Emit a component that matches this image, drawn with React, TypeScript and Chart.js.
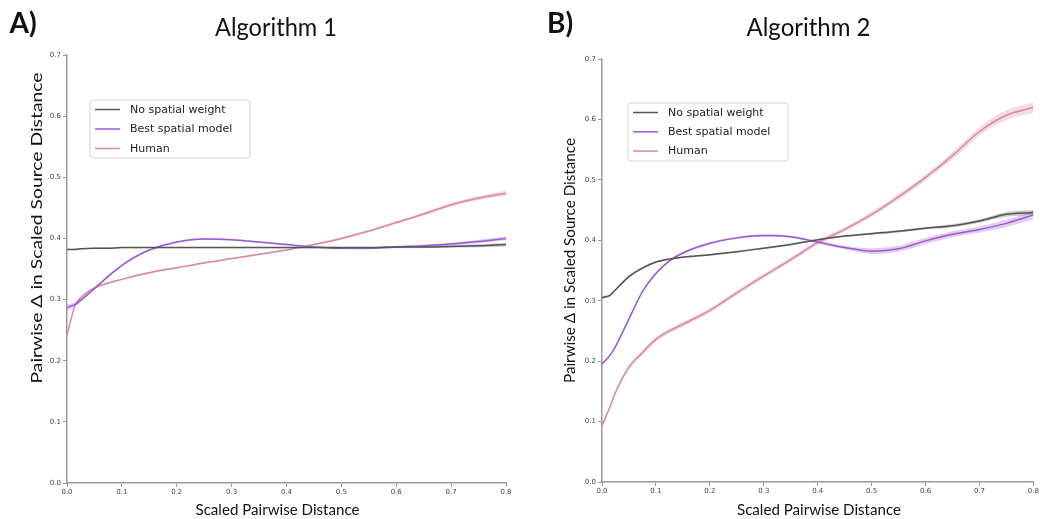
import React, { useEffect, useRef } from "react";
import { Chart, registerables } from "chart.js";

Chart.register(...registerables);

// ---------- data ----------
const SERIES_NAMES = ["No spatial weight", "Best spatial model", "Human"];
const X_TICKS = [0, 0.1, 0.2, 0.3, 0.4, 0.5, 0.6, 0.7, 0.8];
const Y_TICKS = [0, 0.1, 0.2, 0.3, 0.4, 0.5, 0.6, 0.7];

const X_POINTS = [0, 0.015, 0.025, 0.05, 0.075, 0.1, 0.125, 0.15, 0.2, 0.25, 0.3, 0.35, 0.4, 0.45, 0.5, 0.55, 0.6, 0.65, 0.7, 0.75, 0.8];

// Algorithm 1
const A1_NO_SPATIAL = [0.382, 0.382, 0.383, 0.384, 0.384, 0.385, 0.385, 0.385, 0.385, 0.385, 0.385, 0.385, 0.385, 0.385, 0.385, 0.385, 0.386, 0.386, 0.387, 0.388, 0.39];
const A1_BEST_SPATIAL = [0.287, 0.292, 0.299, 0.318, 0.338, 0.356, 0.37, 0.381, 0.394, 0.399, 0.398, 0.394, 0.39, 0.386, 0.384, 0.384, 0.386, 0.388, 0.391, 0.395, 0.4];
const A1_HUMAN = [0.242, 0.291, 0.303, 0.319, 0.327, 0.333, 0.339, 0.344, 0.352, 0.36, 0.367, 0.374, 0.381, 0.39, 0.4, 0.412, 0.426, 0.44, 0.455, 0.466, 0.474];
const A1_NO_SPATIAL_CI = [0.001, 0.001, 0.001, 0.001, 0.001, 0.001, 0.001, 0.001, 0.001, 0.001, 0.001, 0.001, 0.001, 0.001, 0.001, 0.001, 0.0015, 0.002, 0.002, 0.0025, 0.003];
const A1_BEST_SPATIAL_CI = [0.005, 0.004, 0.003, 0.002, 0.002, 0.0015, 0.0015, 0.0015, 0.0015, 0.0015, 0.0015, 0.0015, 0.0015, 0.0015, 0.0015, 0.0015, 0.002, 0.002, 0.0025, 0.003, 0.003];
const A1_HUMAN_CI = [0.002, 0.002, 0.002, 0.0015, 0.0015, 0.0015, 0.0015, 0.0015, 0.0015, 0.0015, 0.0015, 0.0015, 0.0015, 0.0015, 0.002, 0.002, 0.002, 0.0025, 0.003, 0.0035, 0.004];

// Algorithm 2
const A2_NO_SPATIAL = [0.305, 0.309, 0.318, 0.34, 0.354, 0.364, 0.369, 0.372, 0.376, 0.381, 0.387, 0.393, 0.401, 0.407, 0.411, 0.415, 0.42, 0.424, 0.432, 0.443, 0.446];
const A2_BEST_SPATIAL = [0.195, 0.21, 0.224, 0.27, 0.315, 0.345, 0.366, 0.379, 0.395, 0.404, 0.408, 0.406, 0.397, 0.388, 0.382, 0.386, 0.399, 0.41, 0.418, 0.428, 0.442];
const A2_HUMAN = [0.093, 0.125, 0.148, 0.19, 0.214, 0.236, 0.25, 0.261, 0.284, 0.313, 0.341, 0.368, 0.396, 0.418, 0.443, 0.472, 0.504, 0.54, 0.58, 0.607, 0.62];
const A2_NO_SPATIAL_CI = [0.002, 0.002, 0.002, 0.002, 0.002, 0.0015, 0.0015, 0.0015, 0.0015, 0.0015, 0.0015, 0.0015, 0.0015, 0.0015, 0.002, 0.002, 0.002, 0.0025, 0.003, 0.004, 0.004];
const A2_BEST_SPATIAL_CI = [0.002, 0.002, 0.002, 0.002, 0.002, 0.002, 0.002, 0.002, 0.002, 0.002, 0.002, 0.002, 0.0025, 0.003, 0.005, 0.005, 0.005, 0.005, 0.005, 0.006, 0.007];
const A2_HUMAN_CI = [0.003, 0.003, 0.003, 0.004, 0.004, 0.004, 0.004, 0.004, 0.004, 0.004, 0.004, 0.004, 0.004, 0.004, 0.004, 0.005, 0.005, 0.006, 0.007, 0.008, 0.009];

// ---------- styles ----------
const COLORS = ["#555555", "#9a5ad8", "#d888a2"];
const BAND_COLORS = ["rgba(85,85,85,0.3)", "rgba(154,90,216,0.3)", "rgba(216,136,162,0.3)"];
const AXIS_COLOR = "#999999";
const TICK_FONT = { family: "'DejaVu Sans'", size: 7 };
const TITLE_FONT = "Lato";

type TextSpec = {
  text: string;
  cx: number;
  base: number;
  size: number;
  weight?: string;
  width?: number;
  vertical?: boolean;
};

type LegendSpec = {
  x: number;
  y: number;
  w: number;
  h: number;
  row0: number;
  rowGap: number;
  lineX1: number;
  lineX2: number;
  textX: number;
};

function makeOverlay(texts: TextSpec[], legend: LegendSpec) {
  return {
    id: "overlay",
    afterDraw(chart: any) {
      const ctx: CanvasRenderingContext2D = chart.ctx;
      ctx.save();
      for (const t of texts) {
        ctx.save();
        ctx.font = `${t.weight || "400"} ${t.size}px ${TITLE_FONT}`;
        ctx.fillStyle = "#111111";
        ctx.textBaseline = "alphabetic";
        ctx.textAlign = "left";
        const m = ctx.measureText(t.text).width;
        const sx = t.width ? t.width / m : 1;
        if (t.vertical) {
          ctx.translate(t.base, t.cx);
          ctx.rotate(-Math.PI / 2);
          ctx.scale(sx, 1);
          ctx.fillText(t.text, -m / 2, 0);
        } else {
          ctx.translate(t.cx, t.base);
          ctx.scale(sx, 1);
          ctx.fillText(t.text, -m / 2, 0);
        }
        ctx.restore();
      }
      const L = legend;
      ctx.beginPath();
      const r = 3;
      ctx.moveTo(L.x + r, L.y);
      ctx.lineTo(L.x + L.w - r, L.y);
      ctx.quadraticCurveTo(L.x + L.w, L.y, L.x + L.w, L.y + r);
      ctx.lineTo(L.x + L.w, L.y + L.h - r);
      ctx.quadraticCurveTo(L.x + L.w, L.y + L.h, L.x + L.w - r, L.y + L.h);
      ctx.lineTo(L.x + r, L.y + L.h);
      ctx.quadraticCurveTo(L.x, L.y + L.h, L.x, L.y + L.h - r);
      ctx.lineTo(L.x, L.y + r);
      ctx.quadraticCurveTo(L.x, L.y, L.x + r, L.y);
      ctx.closePath();
      ctx.fillStyle = "rgba(255,255,255,0.85)";
      ctx.fill();
      ctx.strokeStyle = "#d4d4d4";
      ctx.lineWidth = 1;
      ctx.stroke();
      ctx.font = "11px 'DejaVu Sans'";
      ctx.textBaseline = "middle";
      ctx.textAlign = "left";
      SERIES_NAMES.forEach((name, i) => {
        const y = L.row0 + i * L.rowGap;
        ctx.beginPath();
        ctx.moveTo(L.lineX1, y);
        ctx.lineTo(L.lineX2, y);
        ctx.strokeStyle = COLORS[i];
        ctx.lineWidth = 1.5;
        ctx.stroke();
        ctx.fillStyle = "#222222";
        ctx.fillText(name, L.textX, y + 0.5);
      });
      ctx.restore();
    },
  };
}

function buildDatasets(series: number[][], cis: number[][]) {
  const lines = series.map((vals, i) => ({
    label: SERIES_NAMES[i],
    data: X_POINTS.map((x, j) => ({ x, y: vals[j] })),
    borderColor: COLORS[i],
    borderWidth: 1.5,
    pointRadius: 0,
    cubicInterpolationMode: "monotone" as const,
    fill: false,
  }));
  const bands: any[] = [];
  series.forEach((vals, i) => {
    const upperIndex = series.length + bands.length;
    bands.push({
      label: SERIES_NAMES[i] + " upper",
      data: X_POINTS.map((x, j) => ({ x, y: vals[j] + cis[i][j] })),
      borderWidth: 0,
      borderColor: "rgba(0,0,0,0)",
      pointRadius: 0,
      cubicInterpolationMode: "monotone" as const,
      fill: false,
    });
    bands.push({
      label: SERIES_NAMES[i] + " lower",
      data: X_POINTS.map((x, j) => ({ x, y: vals[j] - cis[i][j] })),
      borderWidth: 0,
      borderColor: "rgba(0,0,0,0)",
      backgroundColor: BAND_COLORS[i],
      pointRadius: 0,
      cubicInterpolationMode: "monotone" as const,
      fill: upperIndex,
    });
  });
  return [...lines, ...bands];
}

function buildOptions(yWidth: number, xHeight: number, padRight: number, padTop: number) {
  return {
    animation: false as const,
    responsive: false,
    devicePixelRatio: 1,
    layout: { padding: { left: 0, right: padRight, top: padTop, bottom: 0 } },
    plugins: { legend: { display: false }, tooltip: { enabled: false }, title: { display: false } },
    scales: {
      x: {
        type: "linear" as const,
        min: 0,
        max: 0.8,
        afterFit: (s: any) => {
          s.height = xHeight;
        },
        afterBuildTicks: (s: any) => {
          s.ticks = X_TICKS.map((v) => ({ value: v }));
        },
        ticks: {
          font: TICK_FONT,
          color: "#444444",
          padding: 1,
          maxRotation: 0,
          autoSkip: false,
          callback: (v: any) => Number(v).toFixed(1),
        },
        grid: { drawOnChartArea: false, drawTicks: true, tickLength: 4, color: AXIS_COLOR, tickWidth: 1 },
        border: { display: true, color: AXIS_COLOR, width: 1.5 },
      },
      y: {
        type: "linear" as const,
        min: 0,
        max: 0.7,
        afterFit: (s: any) => {
          s.width = yWidth;
        },
        afterBuildTicks: (s: any) => {
          s.ticks = Y_TICKS.map((v) => ({ value: v }));
        },
        ticks: {
          font: TICK_FONT,
          color: "#444444",
          padding: 2,
          autoSkip: false,
          callback: (v: any) => Number(v).toFixed(1),
        },
        grid: { drawOnChartArea: false, drawTicks: true, tickLength: 4, color: AXIS_COLOR, tickWidth: 1 },
        border: { display: true, color: AXIS_COLOR, width: 1.5 },
      },
    },
  };
}

function Panel(props: {
  left: number;
  width: number;
  series: number[][];
  cis: number[][];
  texts: TextSpec[];
  legend: LegendSpec;
  yWidth: number;
  xHeight: number;
  padRight: number;
  padTop: number;
}) {
  const ref = useRef<HTMLCanvasElement | null>(null);
  useEffect(() => {
    if (!ref.current) return;
    const chart = new Chart(ref.current, {
      type: "line",
      data: { datasets: buildDatasets(props.series, props.cis) as any },
      options: buildOptions(props.yWidth, props.xHeight, props.padRight, props.padTop) as any,
      plugins: [makeOverlay(props.texts, props.legend)],
    });
    return () => chart.destroy();
  }, []);
  return (
    <canvas
      ref={ref}
      width={props.width}
      height={519}
      style={{ position: "absolute", left: props.left, top: 0, width: props.width, height: 519 }}
    />
  );
}

export default function App() {
  const leftTexts: TextSpec[] = [
    { text: "A)", cx: 23, base: 33, size: 28, weight: "bold" },
    { text: "Algorithm 1", cx: 276, base: 36, size: 25, width: 122 },
    { text: "Scaled Pairwise Distance", cx: 277.5, base: 515, size: 15, width: 164 },
    { text: "Pairwise \u0394 in Scaled Source Distance", cx: 228, base: 42, size: 15, width: 311, vertical: true },
  ];
  const rightTexts: TextSpec[] = [
    { text: "B)", cx: 30, base: 33, size: 28, weight: "bold" },
    { text: "Algorithm 2", cx: 278.5, base: 36, size: 25, width: 124 },
    { text: "Scaled Pairwise Distance", cx: 289, base: 515, size: 15, width: 164 },
    { text: "Pairwise \u0394 in Scaled Source Distance", cx: 260.5, base: 45, size: 15, width: 245, vertical: true },
  ];
  const leftLegend: LegendSpec = { x: 90, y: 100, w: 160, h: 58, row0: 109.5, rowGap: 19.5, lineX1: 95, lineX2: 120, textX: 130 };
  const rightLegend: LegendSpec = { x: 98, y: 103, w: 160, h: 58, row0: 112.5, rowGap: 19.3, lineX1: 103, lineX2: 128, textX: 138 };
  return (
    <div style={{ position: "fixed", left: 0, top: 0, width: 1040, height: 519, background: "#ffffff", overflow: "hidden" }}>
      <Panel
        left={0}
        width={530}
        series={[A1_NO_SPATIAL, A1_BEST_SPATIAL, A1_HUMAN]}
        cis={[A1_NO_SPATIAL_CI, A1_BEST_SPATIAL_CI, A1_HUMAN_CI]}
        texts={leftTexts}
        legend={leftLegend}
        yWidth={67}
        xHeight={36}
        padRight={24}
        padTop={55}
      />
      <Panel
        left={530}
        width={510}
        series={[A2_NO_SPATIAL, A2_BEST_SPATIAL, A2_HUMAN]}
        cis={[A2_NO_SPATIAL_CI, A2_BEST_SPATIAL_CI, A2_HUMAN_CI]}
        texts={rightTexts}
        legend={rightLegend}
        yWidth={72}
        xHeight={37}
        padRight={5}
        padTop={59}
      />
    </div>
  );
}
